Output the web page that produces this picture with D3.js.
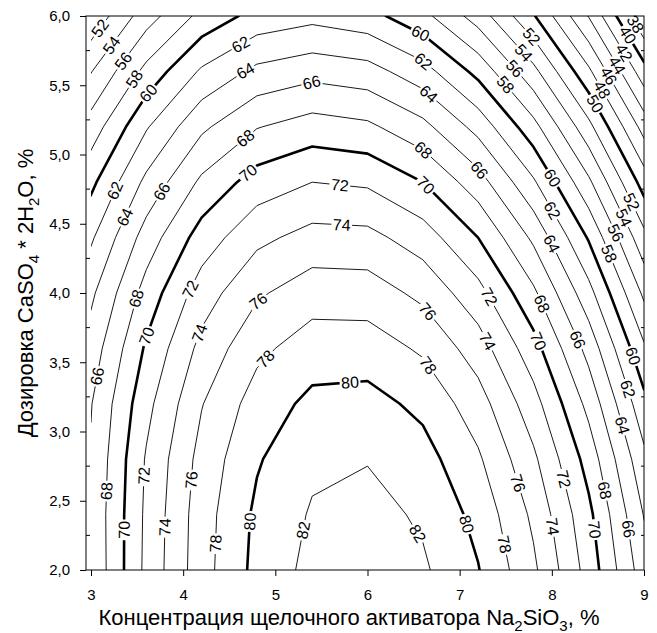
<!DOCTYPE html>
<html lang="ru">
<head>
<meta charset="UTF-8">
<title>Contour - CaSO4 / Na2SiO3</title>
<script src="https://d3js.org/d3.v7.min.js"></script>
<style>
  body { margin: 0; background: #fff; }
  text { font-family: Arial, "Liberation Sans", sans-serif; fill: #000; }
  .iso { fill: none; stroke: #000; stroke-linejoin: round; }
</style>
</head>
<body>
<script>
// grid of the response surface
var xValues = [3.0, 3.6, 4.2, 4.8, 5.4, 6.0, 6.6, 7.2, 7.8, 8.4, 9.0];
var yValues = [2.0, 2.4, 2.8, 3.2, 3.6, 4.0, 4.4, 4.8, 5.2, 5.6, 6.0];
// one row per y value, bottom (2,0) first
var zRows = [
  [66.3, 72.5, 77.2, 80.6, 82.6, 83.1, 82.3, 80.1, 76.4, 71.2, 64.9],
  [66.4, 72.4, 77.1, 80.4, 82.2, 82.7, 81.7, 79.4, 75.6, 70.5, 63.9],
  [66.2, 72.2, 76.7, 79.8, 81.6, 81.9, 80.8, 78.3, 74.4, 69.2, 62.5],
  [65.9, 71.4, 75.9, 78.9, 80.5, 80.7, 79.5, 76.9, 72.8, 67.4, 60.6],
  [64.9, 70.3, 74.6, 77.5, 79.0, 79.0, 77.7, 75.0, 70.8, 65.3, 58.3],
  [63.6, 68.8, 73.0, 75.7, 77.1, 77.0, 75.5, 72.7, 68.4, 62.7, 55.6],
  [61.7, 66.9, 70.9, 73.5, 74.7, 74.6, 73.0, 70.0, 65.6, 59.8, 52.6],
  [59.5, 64.5, 68.4, 70.9, 72.0, 71.7, 70.0, 66.9, 62.3, 56.4, 49.1],
  [56.9, 61.8, 65.6, 67.9, 68.9, 68.4, 66.6, 63.3, 58.7, 52.6, 45.2],
  [53.9, 58.6, 62.3, 64.5, 65.3, 64.8, 62.8, 59.4, 54.6, 48.4, 40.8],
  [50.5, 55.1, 58.6, 60.7, 61.4, 60.7, 58.6, 55.1, 50.2, 43.9, 36.1]
];
var levels = d3.range(38, 84, 2);
var majorLevels = [40, 50, 60, 70, 80];
var xTicks = [3, 4, 5, 6, 7, 8, 9];
var yTicks = [2.0, 2.5, 3.0, 3.5, 4.0, 4.5, 5.0, 5.5, 6.0];
// where the contour labels sit: [level, x, y]
var labelSpots = [
  [52, 3.10, 5.91], [54, 3.24, 5.78], [56, 3.36, 5.67], [58, 3.48, 5.54], [60, 3.61, 5.45],
  [62, 4.62, 5.80], [64, 4.67, 5.61], [66, 5.39, 5.53], [68, 4.66, 5.13], [70, 4.69, 4.88],
  [62, 3.26, 4.74], [64, 3.36, 4.55], [66, 3.75, 4.74], [68, 3.49, 3.96], [72, 4.07, 4.03], [76, 4.78, 3.97],
  [60, 6.57, 5.87], [62, 6.59, 5.66], [64, 6.64, 5.42], [68, 6.59, 5.02], [70, 6.62, 4.77],
  [72, 5.70, 4.78], [74, 5.72, 4.49], [76, 6.64, 3.86], [66, 7.20, 4.88], [72, 7.31, 3.97], [68, 7.85, 3.91],
  [60, 7.98, 4.82], [62, 7.96, 4.58], [64, 7.98, 4.35],
  [52, 7.76, 5.84], [54, 7.67, 5.72], [56, 7.58, 5.61], [58, 7.47, 5.49],
  [38, 8.88, 5.93], [40, 8.79, 5.85], [42, 8.72, 5.71], [44, 8.65, 5.62], [46, 8.57, 5.55], [48, 8.50, 5.45], [50, 8.45, 5.36],
  [52, 8.84, 4.65], [54, 8.77, 4.54], [56, 8.65, 4.42], [58, 8.57, 4.27],
  [66, 3.06, 3.40], [70, 3.60, 3.69], [74, 4.18, 3.71], [78, 4.87, 3.54],
  [68, 3.16, 2.57], [72, 3.59, 2.68], [76, 4.08, 2.65], [70, 3.35, 2.29], [74, 3.77, 2.31],
  [78, 4.36, 2.19], [80, 4.74, 2.35], [82, 5.28, 2.29],
  [80, 5.81, 3.36], [78, 6.64, 3.47], [74, 7.27, 3.64], [70, 7.81, 3.64], [66, 8.27, 3.66],
  [60, 8.86, 3.54], [62, 8.79, 3.30], [64, 8.74, 3.04],
  [76, 7.60, 2.62], [72, 8.09, 2.65], [68, 8.54, 2.57], [80, 7.07, 2.33], [82, 6.56, 2.27],
  [78, 7.45, 2.18], [74, 7.96, 2.31], [70, 8.45, 2.29], [66, 8.77, 2.29]
];

var width = 657, height = 633;
var frameL = 86, frameR = 644, frameT = 16, frameB = 570;

var svg = d3.select("body").append("svg")
  .attr("width", width).attr("height", height);

var x = d3.scaleLinear().domain([3, 9]).range([91, frameR]);
var y = d3.scaleLinear().domain([2, 6]).range([frameB, frameT]);

// grid index -> pixel
var nx = xValues.length, ny = yValues.length;
var gx = d3.scaleLinear().domain([0, nx - 1]).range([x(xValues[0]), x(xValues[nx - 1])]);
var gy = d3.scaleLinear().domain([0, ny - 1]).range([y(yValues[0]), y(yValues[ny - 1])]);

var values = [];
zRows.forEach(function(r) { r.forEach(function(v) { values.push(v); }); });

var contours = d3.contours().size([nx, ny]).thresholds(levels)(values);

var proj = d3.geoTransform({
  point: function(a, b) { this.stream.point(gx(a - 0.5), gy(b - 0.5)); }
});
var path = d3.geoPath(proj);

svg.append("clipPath").attr("id", "plotclip")
  .append("rect")
  .attr("x", x(3)).attr("y", frameT)
  .attr("width", frameR - x(3)).attr("height", frameB - frameT);

var lines = svg.append("g").attr("clip-path", "url(#plotclip)");
lines.selectAll("path").data(contours).enter().append("path")
  .attr("class", "iso")
  .attr("d", path)
  .attr("stroke-width", function(d) { return majorLevels.indexOf(d.value) >= 0 ? 2.6 : 0.9; });

// segments of each iso-line inside the data area, in pixels
function segmentsOf(level) {
  var c = contours.find(function(d) { return d.value === level; });
  var segs = [];
  if (!c) return segs;
  var inside = function(p) {
    return p[0] >= x(3) - 0.5 && p[0] <= frameR + 0.5 && p[1] >= frameT - 0.5 && p[1] <= frameB + 0.5;
  };
  c.coordinates.forEach(function(poly) {
    poly.forEach(function(ring) {
      var pts = ring.map(function(p) { return [gx(p[0] - 0.5), gy(p[1] - 0.5)]; });
      for (var i = 0; i < pts.length - 1; i++) {
        if (inside(pts[i]) && inside(pts[i + 1])) segs.push([pts[i], pts[i + 1]]);
      }
    });
  });
  return segs;
}

var labelG = svg.append("g");
labelSpots.forEach(function(s) {
  var px = x(s[1]), py = y(s[2]);
  var best = null, bestD = Infinity;
  segmentsOf(s[0]).forEach(function(sg) {
    var a = sg[0], b = sg[1];
    var dx = b[0] - a[0], dy = b[1] - a[1];
    var L = dx * dx + dy * dy;
    if (L === 0) return;
    var t = Math.max(0, Math.min(1, ((px - a[0]) * dx + (py - a[1]) * dy) / L));
    var qx = a[0] + t * dx, qy = a[1] + t * dy;
    var d = (qx - px) * (qx - px) + (qy - py) * (qy - py);
    if (d < bestD) { bestD = d; best = { x: qx, y: qy, ang: Math.atan2(dy, dx) * 180 / Math.PI }; }
  });
  if (!best) return;
  var ang = best.ang;
  if (ang > 90) ang -= 180;
  if (ang <= -90) ang += 180;
  var g = labelG.append("g")
    .attr("transform", "translate(" + best.x + "," + best.y + ") rotate(" + ang + ")");
  var rect = g.append("rect").attr("fill", "#fff");
  var t = g.append("text")
    .attr("text-anchor", "middle")
    .attr("dy", "0.35em")
    .style("font-size", "16px")
    .text(s[0]);
  var w = t.node().getComputedTextLength();
  rect.attr("x", -w / 2 - 1.5).attr("y", -6.5).attr("width", w + 3).attr("height", 13);
});

// frame
svg.append("rect")
  .attr("x", frameL).attr("y", frameT)
  .attr("width", frameR - frameL).attr("height", frameB - frameT)
  .attr("fill", "none").attr("stroke", "#000").attr("stroke-width", 1);

// axes
var xAxis = d3.axisBottom(x).tickValues(xTicks).tickSize(6).tickPadding(13)
  .tickFormat(d3.format("d"));
var yAxis = d3.axisLeft(y).tickValues(yTicks).tickSize(6).tickPadding(10)
  .tickFormat(function(d) { return d.toFixed(1).replace(".", ","); });

var xg = svg.append("g").attr("transform", "translate(0," + frameB + ")").call(xAxis);
var yg = svg.append("g").attr("transform", "translate(" + frameL + ",0)").call(yAxis);
[xg, yg].forEach(function(g) {
  g.select(".domain").remove();
  g.selectAll("text").style("font-size", "15px").style("font-family", "Arial, 'Liberation Sans', sans-serif").attr("fill", "#222");
  g.selectAll("line").attr("stroke", "#000");
});

// minor ticks (inward) on left and right
var minorY = d3.range(2.25, 6, 0.5);
svg.append("g").selectAll("line").data(minorY).enter().append("line")
  .attr("x1", frameL).attr("x2", frameL + 4)
  .attr("y1", function(d) { return y(d); }).attr("y2", function(d) { return y(d); })
  .attr("stroke", "#000");
svg.append("g").selectAll("line").data(minorY).enter().append("line")
  .attr("x1", frameR).attr("x2", frameR - 3)
  .attr("y1", function(d) { return y(d); }).attr("y2", function(d) { return y(d); })
  .attr("stroke", "#000");

// axis titles
var xt = svg.append("text")
  .attr("x", 349).attr("y", 625)
  .attr("text-anchor", "middle")
  .style("font-size", "22px");
xt.append("tspan").text("Концентрация щелочного активатора Na");
xt.append("tspan").attr("dy", 6).style("font-size", "15px").text("2");
xt.append("tspan").attr("dy", -6).text("SiO");
xt.append("tspan").attr("dy", 6).style("font-size", "15px").text("3");
xt.append("tspan").attr("dy", -6).text(", %");

var yt = svg.append("text")
  .attr("transform", "translate(33,293) rotate(-90)")
  .attr("text-anchor", "middle")
  .style("font-size", "22px");
yt.append("tspan").text("Дозировка CaSO");
yt.append("tspan").attr("dy", 6).style("font-size", "15px").text("4");
yt.append("tspan").attr("dy", -6).text(" * 2H");
yt.append("tspan").attr("dy", 6).style("font-size", "15px").text("2");
yt.append("tspan").attr("dy", -6).text("O, %");
</script>
</body>
</html>
